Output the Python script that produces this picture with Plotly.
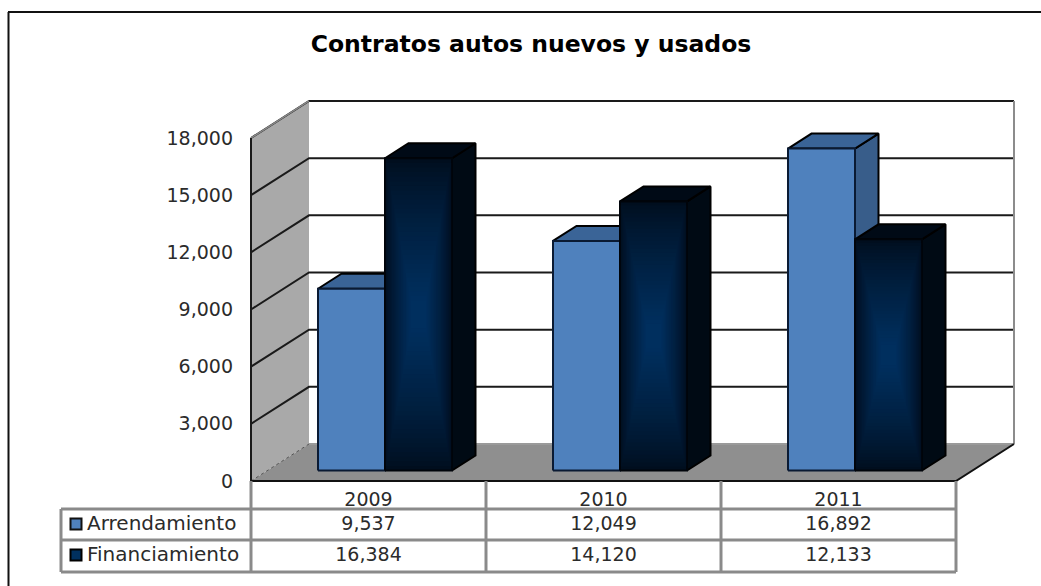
import plotly.graph_objects as go

W, H = 1041, 586

# ---- data ----
years = ["2009", "2010", "2011"]
arrendamiento = [9537, 12049, 16892]
financiamiento = [16384, 14120, 12133]
y_ticks = [0, 3000, 6000, 9000, 12000, 15000, 18000]
title = "Contratos autos nuevos y usados"
FONT = "DejaVu Sans"
TEXT = "#2b2b2b"

# ---- scales: axes fill the page ----
UNIT_X = 235.0            # px per category
X0_PX = 368.5             # px of category 0
UNIT_Y = 57.17 / 3000.0   # px per value
Y0_PX = 481.0             # px of value 0 on the front plane

dx = lambda px: px / UNIT_X          # horizontal px -> x units
dy = lambda px: px / UNIT_Y          # vertical px (upward) -> y units
X = lambda px: (px - X0_PX) / UNIT_X
Y = lambda px: (Y0_PX - px) / UNIT_Y

fig = go.Figure()


def poly(xs, ys, fill, line="rgba(0,0,0,0)", width=0):
    fig.add_trace(go.Scatter(x=xs, y=ys, mode="lines", fill="toself", fillcolor=fill,
                             line=dict(color=line, width=width), hoverinfo="skip",
                             showlegend=False, cliponaxis=False))


def seg(xs, ys, color, width, dash=None):
    fig.add_trace(go.Scatter(x=xs, y=ys, mode="lines",
                             line=dict(color=color, width=width, dash=dash),
                             hoverinfo="skip", showlegend=False, cliponaxis=False))


# walls
wall_dx, wall_dy = dx(58), dy(37)
xl, xr = X(251), X(956)
top = y_ticks[-1]
poly([xl, xl + wall_dx, xl + wall_dx, xl, xl], [0, wall_dy, top + wall_dy, top, 0], "#a9a9a9")
poly([xl, xl + wall_dx, xr + wall_dx, xr, xl], [0, wall_dy, wall_dy, 0, 0], "#8f8f8f")

# gridlines
for v in y_ticks[1:]:
    seg([xl, xl + wall_dx, xr + wall_dx], [v, v + wall_dy, v + wall_dy], "#1a1a1a", 2)
seg([xl, xl + wall_dx], [0, wall_dy], "#555555", 1, "dot")
seg([xl + wall_dx, xr + wall_dx], [wall_dy, wall_dy], "#9a9a9a", 2)
seg([xr + wall_dx, xr + wall_dx], [wall_dy, top + wall_dy], "#8c8c8c", 2)
seg([xl, xl + wall_dx], [top, top + wall_dy], "#8a8a8a", 1.5)
seg([xl, xl], [0, top], "#1a1a1a", 2)
seg([xl, xr, xr + wall_dx], [0, 0, wall_dy], "#111111", 2)

# bars
bar_w = dx(67)
off_x, off_y = dx(16.5), dy(10.5)
depth_x, depth_y = dx(23.5), dy(15)


def lerp(a, b, t):
    return "rgb(%d,%d,%d)" % tuple(round(a[i] + (b[i] - a[i]) * t) for i in range(3))


def bar(cat, value, side, front_col, top_col, side_col, gradient=False):
    x0 = cat + off_x + (bar_w * side)
    x1 = x0 + bar_w
    y0, y1 = off_y, off_y + value
    # side and top faces
    poly([x1, x1 + depth_x, x1 + depth_x, x1, x1],
         [y0, y0 + depth_y, y1 + depth_y, y1, y0], side_col, "#000000", 2)
    poly([x0, x0 + depth_x, x1 + depth_x, x1, x0],
         [y1, y1 + depth_y, y1 + depth_y, y1, y1], top_col, "#000000", 2)
    poly([x0, x1, x1, x0, x0], [y0, y0, y1, y1, y0], front_col, "#00040a" if gradient else "#0a1a33",
         2)
    if gradient:
        edge = (0, 14, 30)
        centre = (0, 48, 96)
        n = 32
        for k in range(1, n):
            t = k / n
            ix, iy = t * (x1 - x0) * 0.40, t * (y1 - y0) * 0.47
            poly([x0 + ix, x1 - ix, x1 - ix, x0 + ix, x0 + ix],
                 [y0 + iy, y0 + iy, y1 - iy, y1 - iy, y0 + iy],
                 lerp(edge, centre, t ** 0.8))


for i in range(len(years)):
    bar(i, arrendamiento[i], -1, "#4f81bd", "#3a6497", "#385d8a")
    bar(i, financiamiento[i], 0, "#000e1e", "#000a16", "#000a14", gradient=True)

# table values as text on the axes' scales
table_rows = [(arrendamiento, Y(525.5)), (financiamiento, Y(556))]
for vals, row_y in table_rows:
    fig.add_trace(go.Scatter(x=list(range(len(years))), y=[row_y] * len(years), mode="text",
                             text=[f"{v:,}" for v in vals], textposition="middle center",
                             textfont=dict(family=FONT, size=19, color=TEXT),
                             hoverinfo="skip", showlegend=False, cliponaxis=False))

# legend keys in the table
for name, col, edge, row_y in [("Arrendamiento", "#4f81bd", "#111111", 524),
                               ("Financiamiento", "#00305f", "#000000", 555)]:
    fig.add_trace(go.Scatter(x=[X(76)], y=[Y(row_y)], mode="markers",
                             marker=dict(symbol="square", size=11, color=col,
                                         line=dict(color=edge, width=2)),
                             hoverinfo="skip", showlegend=False, cliponaxis=False))
    fig.add_trace(go.Scatter(x=[X(87)], y=[Y(row_y + 1)], mode="text", text=[name],
                             textposition="middle right",
                             textfont=dict(family=FONT, size=20, color=TEXT),
                             hoverinfo="skip", showlegend=False, cliponaxis=False))

# table rules and outer frame
GRAY = "#8a8a8a"
shapes = []


def rule(x0, y0, x1, y1, color=GRAY, width=3):
    shapes.append(dict(type="line", xref="paper", yref="paper", x0=x0 / W, x1=x1 / W,
                       y0=1 - y0 / H, y1=1 - y1 / H, line=dict(color=color, width=width)))


rule(251, 481, 251, 572)
rule(486, 481, 486, 572)
rule(721, 481, 721, 572)
rule(956, 481, 956, 572)
rule(61, 509, 61, 572)
rule(61, 509, 956, 509)
rule(61, 540, 956, 540)
rule(61, 572, 956, 572)
rule(8.5, 12, 8.5, 586, "#111111", 2)
rule(8, 12, 1041, 12, "#111111", 2)

fig.update_layout(
    width=W, height=H, margin=dict(l=0, r=0, t=0, b=0),
    paper_bgcolor="white", plot_bgcolor="white", showlegend=False, shapes=shapes,
    title=dict(text=title, x=531 / W, xanchor="center", y=1 - 44 / H, yanchor="middle",
               font=dict(family=FONT, size=23.5, color="#000000", weight="bold")),
    xaxis=dict(range=[X(0), X(W)], domain=[0, 1], anchor="free", position=1 - 481 / H,
               tickvals=list(range(len(years))), ticktext=years, showgrid=False,
               zeroline=False, showline=False, ticks="", ticklabelstandoff=5,
               tickfont=dict(family=FONT, size=19, color=TEXT)),
    yaxis=dict(range=[Y(H), Y(0)], domain=[0, 1], anchor="free", position=251 / W,
               tickvals=y_ticks, tickformat=",", showgrid=False, zeroline=False,
               showline=False, ticks="", ticklabelstandoff=18,
               tickfont=dict(family=FONT, size=19, color=TEXT)),
)

fig.write_html("out.html", config=dict(displayModeBar=False),
               post_script="document.body.style.margin='0';document.documentElement.style.overflow='hidden';")
